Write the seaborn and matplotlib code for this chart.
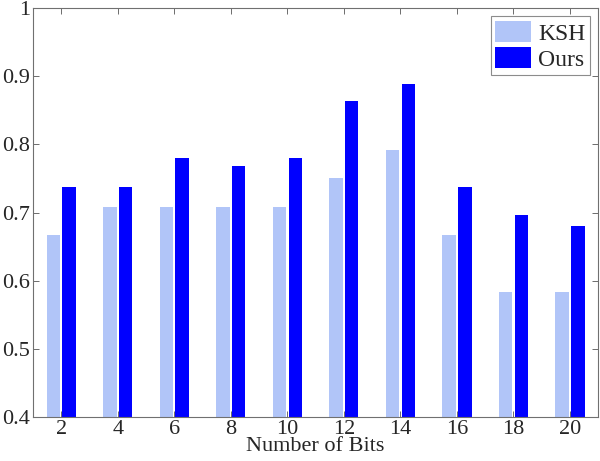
import matplotlib
matplotlib.use("Agg")
import matplotlib.pyplot as plt
import seaborn as sns
import pandas as pd

bits = ["2", "4", "6", "8", "10", "12", "14", "16", "18", "20"]
ksh = [0.667, 0.708, 0.708, 0.708, 0.708, 0.750, 0.792, 0.667, 0.583, 0.583]
ours = [0.738, 0.738, 0.780, 0.768, 0.780, 0.863, 0.889, 0.738, 0.697, 0.680]

df = pd.DataFrame({
    "bits": bits * 2,
    "value": ksh + ours,
    "method": ["KSH"] * len(bits) + ["Ours"] * len(bits),
})

sns.set_theme(style="white")
plt.rcParams["font.family"] = ["Liberation Serif", "DejaVu Serif"]

fig = plt.figure(figsize=(6.0, 4.61), dpi=100)
ax = fig.add_axes([0.055, 0.0954, 0.942, 0.8872])

sns.barplot(data=df, x="bits", y="value", hue="method", order=bits,
            hue_order=["KSH", "Ours"], palette=["#B1C5F8", "#0000FF"],
            width=0.56, gap=0.15, saturation=1, ax=ax, errorbar=None,
            linewidth=0)

ax.set_ylim(0.4, 1.0)
ax.set_xlim(-0.5, 9.5)
ax.set_yticks([0.4, 0.5, 0.6, 0.7, 0.8, 0.9, 1.0])
ax.set_yticklabels(["0.4", "0.5", "0.6", "0.7", "0.8", "0.9", "1"])
ax.set_xlabel("Number of Bits", fontsize=16, labelpad=-1)
ax.set_ylabel("")
ax.tick_params(axis="both", which="both", direction="in", length=4, width=0.6,
               color="#555555", labelsize=16, top=True, right=True,
               bottom=True, left=True, pad=2)
for s in ax.spines.values():
    s.set_color("#707070")
    s.set_linewidth(0.8)
    s.set_visible(True)

leg = ax.legend(loc="upper right", fontsize=17, frameon=True, fancybox=False,
                edgecolor="#707070", handlelength=1.5, handleheight=1.0,
                borderpad=0.2, labelspacing=0.1, handletextpad=0.3,
                borderaxespad=0.35)
leg.get_frame().set_linewidth(0.8)

fig.savefig("out.png", dpi=100)
